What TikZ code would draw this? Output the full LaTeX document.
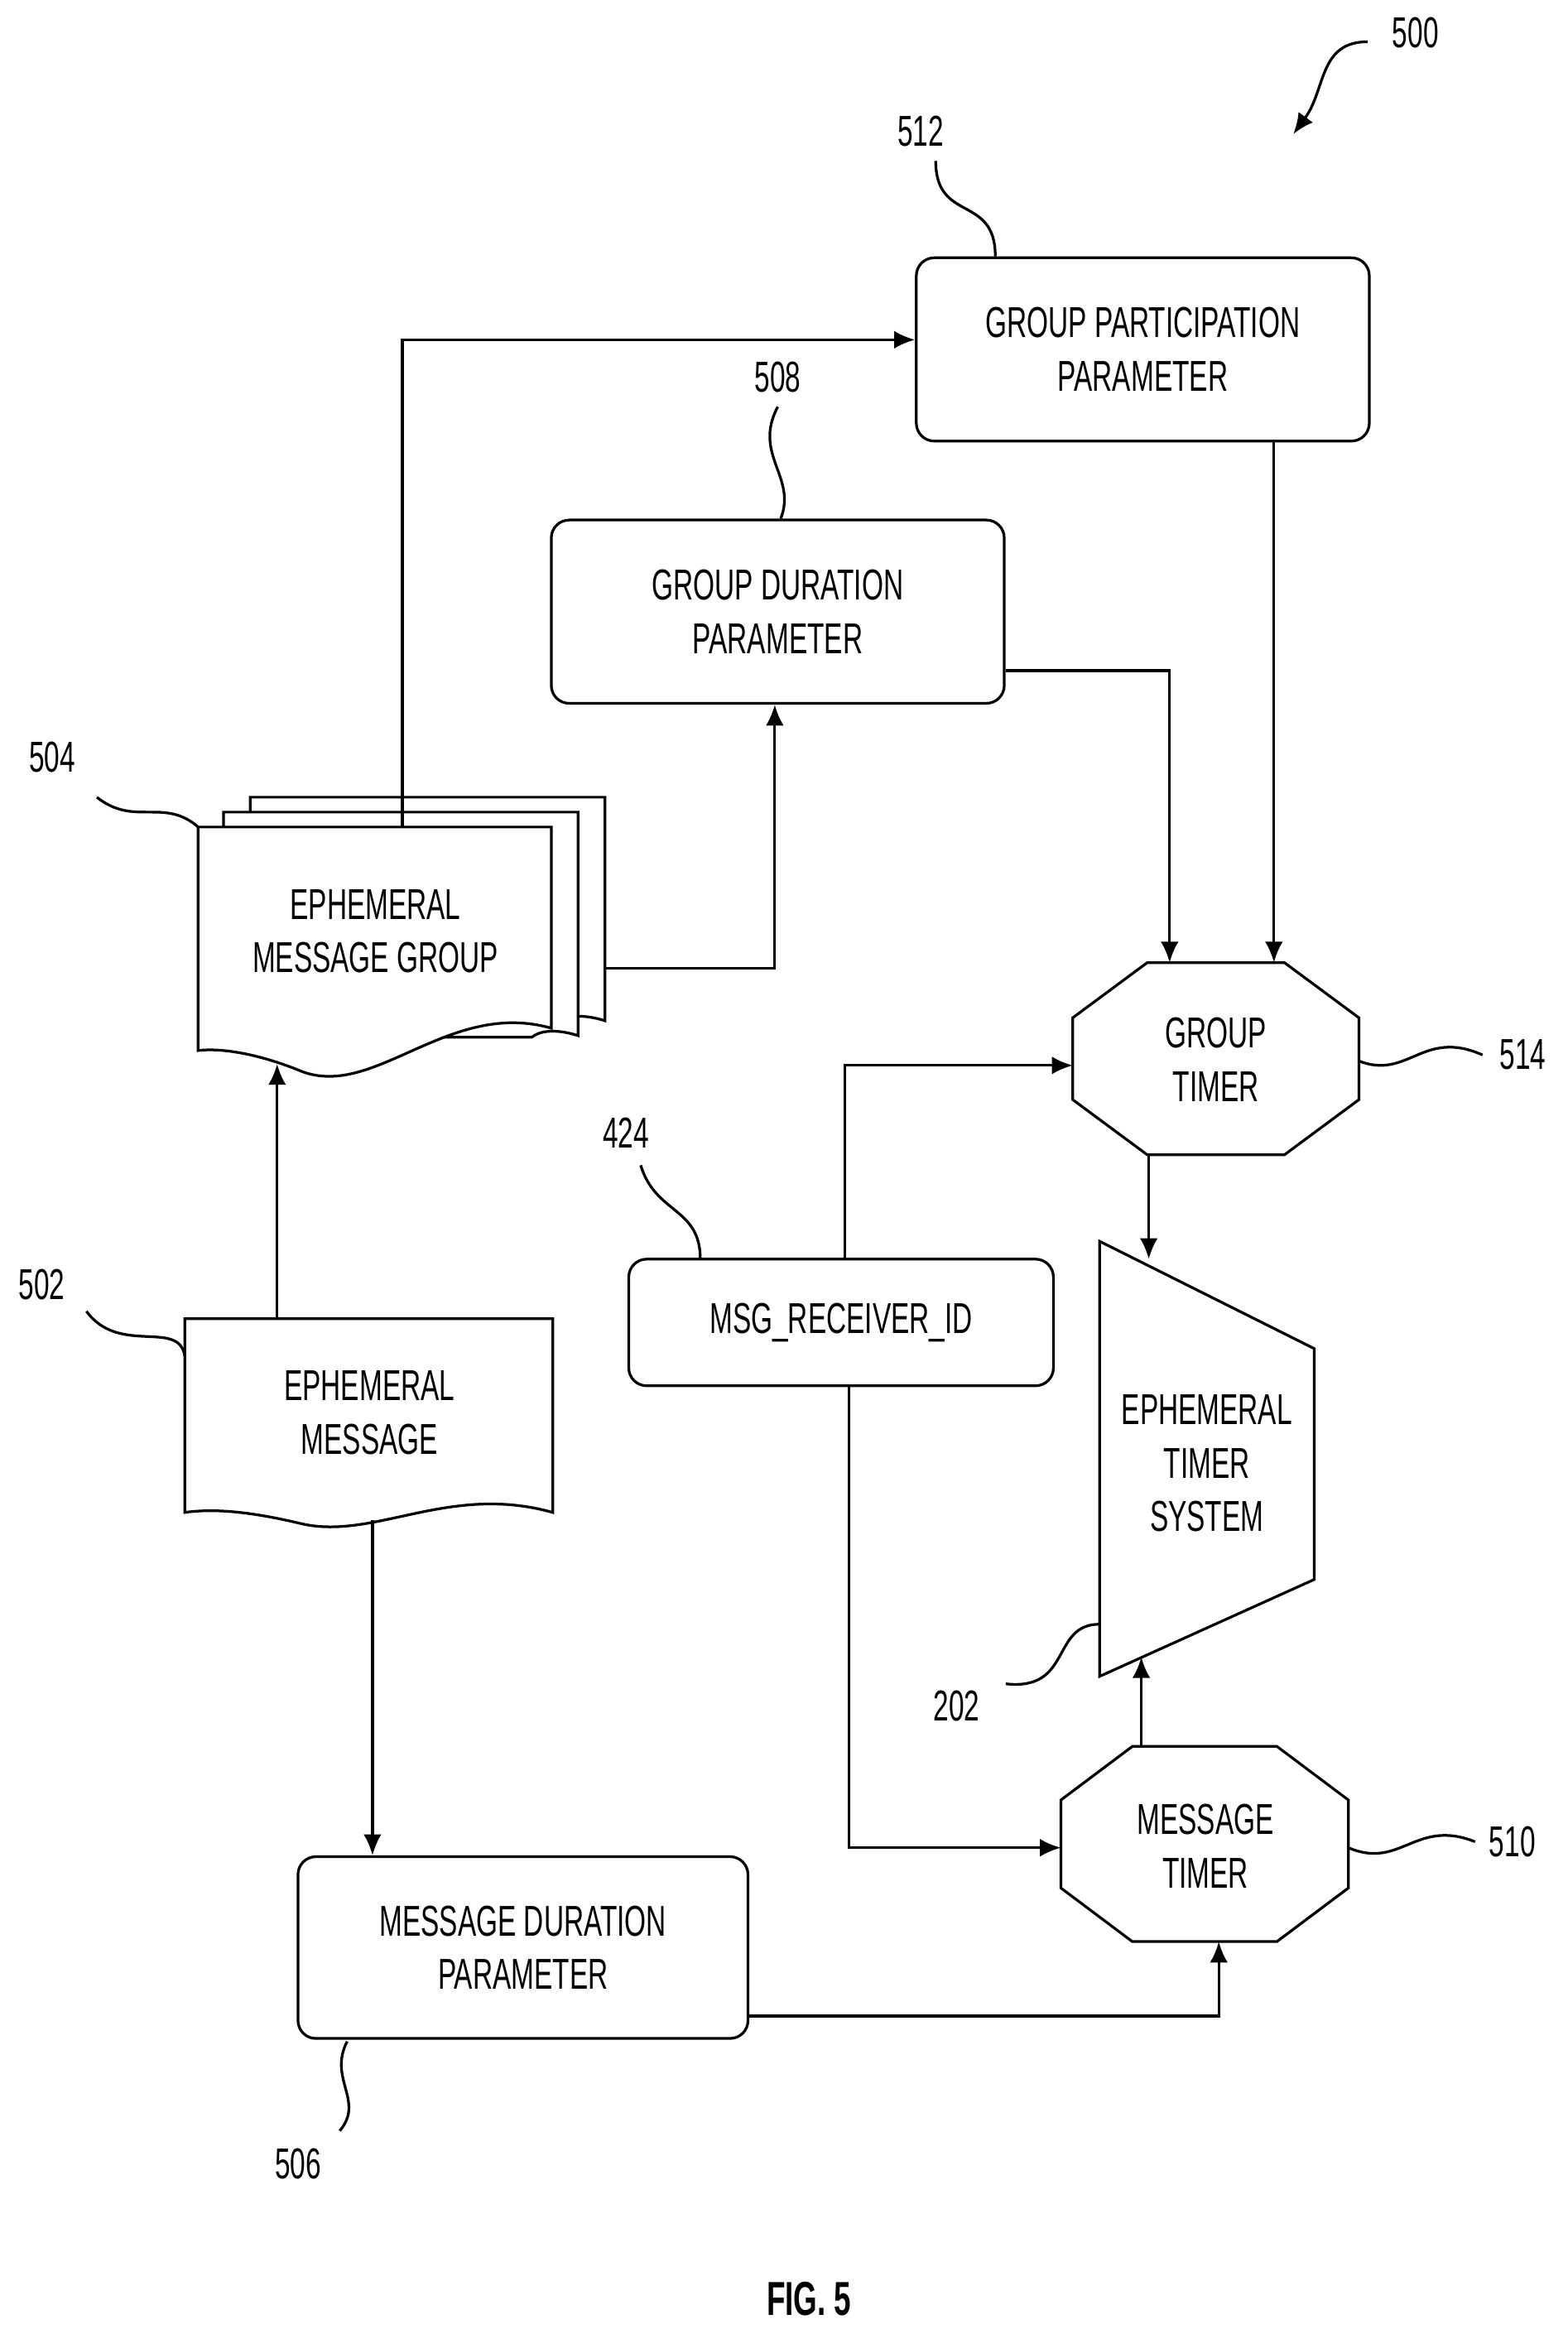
\documentclass[tikz,border=0pt]{standalone}
\usepackage{fontspec}
\setmainfont{Liberation Sans}[FakeStretch=0.64]
\usetikzlibrary{arrows.meta}
\begin{document}
\begin{tikzpicture}[x=0.5pt,y=-0.5pt,line width=0.9pt,
  every node/.style={font=\fontsize{14.5}{18}\selectfont,align=center},
  box/.style={draw,rounded corners=6pt,inner sep=0pt},
  arr/.style={-{Latex[length=7pt,width=6pt]}},
  lbl/.style={font=\fontsize{14.5}{18}\selectfont}]
\useasboundingbox (0,0) rectangle (1052,1563);
% boxes
\node[box,minimum width=152pt,minimum height=61.5pt] (gpp) at (767,234.5) {GROUP PARTICIPATION\\PARAMETER};
\node[box,minimum width=152pt,minimum height=61.5pt] (gdp) at (522,410.5) {GROUP DURATION\\PARAMETER};
\node[box,minimum width=151pt,minimum height=61pt] (mdp) at (351,1307) {MESSAGE DURATION\\PARAMETER};
\node[box,minimum width=142.5pt,minimum height=42.5pt] (mri) at (564.5,887.5) {MSG\_RECEIVER\_ID};
% ephemeral message group (stack)
\draw[fill=white] (168,535) -- (406,535) -- (406,685) .. controls (390,680) and (380,682) .. (375,686) -- (168,686) -- cycle;
\draw[fill=white] (150,545) -- (388,545) -- (388,695) .. controls (372,690) and (362,692) .. (357,696) -- (150,696) -- cycle;
\draw[fill=white] (133,555) -- (370,555) -- (370,690) .. controls (300,670) and (250,740) .. (200,718) .. controls (175,708) and (150,703) .. (133,705) -- cycle;
\node (emg) at (252,625) {EPHEMERAL\\MESSAGE GROUP};
\coordinate (emgtop) at (270,555); \coordinate (emgbot) at (186,714); \coordinate (emgr) at (406,650);
% ephemeral message
\draw (124,885) -- (371,885) -- (371,1015) .. controls (300,995) and (250,1035) .. (200,1022) .. controls (170,1015) and (145,1012) .. (124,1015) -- cycle;
\node (em) at (248,948) {EPHEMERAL\\MESSAGE};
\coordinate (emtop) at (186,885); \coordinate (embot) at (250,1020);
% octagons
\draw (770,646) -- (862,646) -- (912,683) -- (912,738) -- (862,775) -- (770,775) -- (720,738) -- (720,683) -- cycle;
\node (gt) at (816,711) {GROUP\\TIMER};
\draw (760,1172) -- (857,1172) -- (905,1208) -- (905,1267) -- (857,1303) -- (760,1303) -- (712,1267) -- (712,1208) -- cycle;
\node (mt) at (809,1239) {MESSAGE\\TIMER};
% trapezoid
\draw (738,833) -- (882,905) -- (882,1060) -- (738,1125) -- cycle;
\node (ets) at (810,982) {EPHEMERAL\\TIMER\\SYSTEM};
% connectors
\draw[arr] (emgtop) |- (gpp.west |- 0,228);
\draw[arr] (emgr) -| (gdp.south -| 520,0);
\draw[arr] (gdp.east |- 0,450) -| (785,646);
\draw[arr] (gpp.south -| 855,0) -- (855,646);
\draw[arr] (mri.north -| 567,0) |- (720,715);
\draw[arr] (771,775) -- (771,845);
\draw[arr] (emtop) -- (emgbot);
\draw[arr] (embot) -- (mdp.north -| 250,0);
\draw[arr] (mri.south -| 570,0) |- (712,1240);
\draw[arr] (mdp.east |- 0,1353) -| (818,1303);
\draw[arr] (766,1172) -- (766,1112);
% labels & leaders
\node[lbl] (l500) at (950,22) {500};
\draw[arr] (918,28) .. controls (885,28) and (890,60) .. (868,90);
\node[lbl] (l512) at (618,88) {512};
\draw (628,108) .. controls (628,150) and (668,130) .. (668,172);
\node[lbl] (l508) at (522,253) {508};
\draw (522,273) .. controls (505,305) and (535,320) .. (524,348);
\node[lbl] (l504) at (35,508) {504};
\draw (65,535) .. controls (90,555) and (110,535) .. (133,555);
\node[lbl] (l502) at (28,862) {502};
\draw (58,880) .. controls (80,910) and (120,885) .. (124,910);
\node[lbl] (l424) at (420,760) {424};
\draw (430,782) .. controls (440,815) and (470,810) .. (470,845);
\node[lbl] (l514) at (1022,708) {514};
\draw (912,712) .. controls (945,725) and (955,690) .. (995,708);
\node[lbl] (l510) at (1015,1236) {510};
\draw (905,1240) .. controls (940,1255) and (950,1220) .. (990,1236);
\node[lbl] (l202) at (642,1145) {202};
\draw (675,1130) .. controls (720,1135) and (705,1090) .. (738,1090);
\node[lbl] (l506) at (200,1452) {506};
\draw (233,1370) .. controls (220,1395) and (245,1410) .. (228,1430);
\node[font=\fontsize{16}{18}\bfseries\selectfont] (fig) at (543,1543) {FIG. 5};
\end{tikzpicture}
\end{document}
